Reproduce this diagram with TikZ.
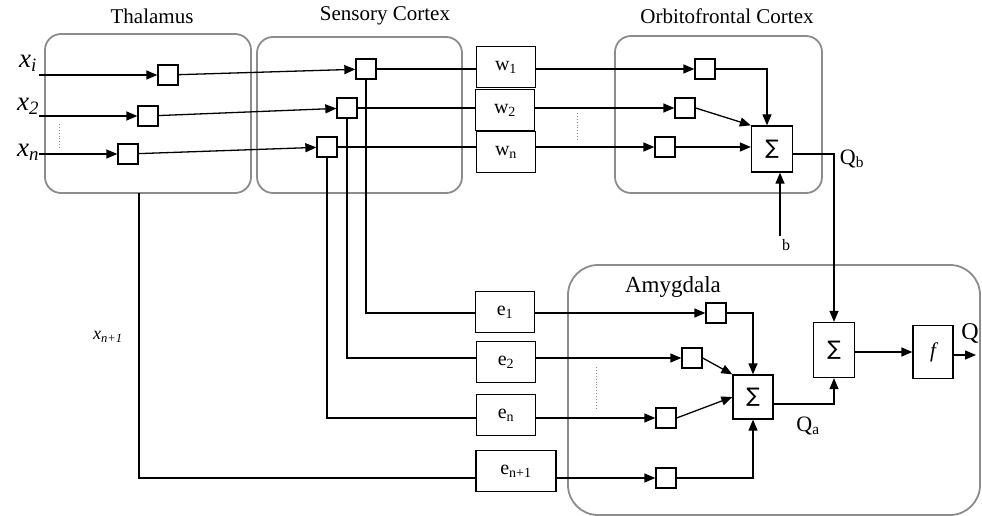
\documentclass[tikz,border=0pt]{standalone}
\usepackage{fontspec}
\setmainfont{Liberation Serif}
\newfontfamily\sumfont{DejaVu Sans}
\usetikzlibrary{arrows.meta, positioning, calc}
\definecolor{regiongray}{HTML}{8C8C8C}

\tikzset{
  region/.style={draw=regiongray, line width=1.8pt, rounded corners=16pt},
  cell/.style={draw, line width=1.3pt, minimum width=20pt, minimum height=20pt, inner sep=0pt},
  weight/.style={draw, line width=1.3pt, minimum width=59pt, minimum height=41pt, inner sep=0pt,
    font=\fontsize{20}{22}\selectfont},
  sumbox/.style={draw, line width=1.3pt, minimum width=41pt, minimum height=46pt, inner sep=0pt,
    font=\sumfont\fontsize{20}{22}\selectfont},
  wire/.style={line width=1.3pt},
  arr/.style={wire, -{Triangle[length=11pt,width=9pt]}},
  title/.style={font=\fontsize{21}{24}\selectfont},
  inlabel/.style={font=\fontsize{27}{29}\selectfont\itshape},
  dots/.style={dotted, line width=0.9pt, regiongray},
}

\begin{document}
\begin{tikzpicture}[x=1pt,y=-1pt]
  \useasboundingbox (0,0) rectangle (982,516);

  % regions
  \draw[region] (45,34) rectangle (251,193);
  \draw[region] (257,37) rectangle (462,193);
  \draw[region] (615,36) rectangle (822,193);
  \draw[region, rounded corners=30pt] (568,265) rectangle (980,515);
  \node[title] (thal) at (152,16) {Thalamus};
  \node[title] (sens) at (385,16) {Sensory Cortex};
  \node[title] (orbi) at (727,16) {Orbitofrontal Cortex};
  \node[font=\fontsize{23}{26}\selectfont] (amyg) at (673,287) {Amygdala};

  % inputs
  \node[inlabel] (xi) at (28,63) {x\textsubscript{i}};
  \node[inlabel] (x2) at (28,106) {x\textsubscript{2}};
  \node[inlabel] (xn) at (28,152) {x\textsubscript{n}};
  \coordinate (in1) at (39,75);
  \coordinate (in2) at (39,116);
  \coordinate (in3) at (39,154);
  \draw[dots] (59,124) -- (59,150);

  % thalamus cells
  \node[cell] (t1) at (168,75) {};
  \node[cell] (t2) at (148,116) {};
  \node[cell] (t3) at (128,154) {};

  % sensory cortex cells
  \node[cell] (s1) at (366,69) {};
  \node[cell] (s2) at (347,108) {};
  \node[cell] (s3) at (327,147) {};

  % weights
  \node[weight] (w1) at (506,67) {w\textsubscript{1}};
  \node[weight] (w2) at (505,110) {w\textsubscript{2}};
  \node[weight] (wn) at (506,152) {w\textsubscript{n}};
  \draw[dots] (577,113) -- (577,142);

  % orbitofrontal cells
  \node[cell] (o1) at (705,69) {};
  \node[cell] (o2) at (685,108) {};
  \node[cell] (o3) at (665,147) {};
  \node[sumbox] (sumO) at (772,149) {∑};
  \coordinate (bO) at (780,236);
  \node[font=\fontsize{16}{18}\selectfont] (blab) at (786,245) {b};
  \node[font=\fontsize{22}{24}\selectfont] (qb) at (852,159) {Q\textsubscript{b}};

  % e boxes
  \node[weight] (e1) at (505,312) {e\textsubscript{1}};
  \node[weight] (e2) at (506,362) {e\textsubscript{2}};
  \node[weight] (en) at (506,415) {e\textsubscript{n}};
  \node[weight, minimum width=80pt] (en1) at (516,471) {e\textsubscript{n+1}};
  \coordinate (tdown) at (139,193);
  \node[font=\fontsize{18}{20}\selectfont\itshape] (xn1) at (108,337) {x\textsubscript{n+1}};

  % amygdala cells
  \node[cell] (a1) at (716,313) {};
  \node[cell] (a2) at (692,358) {};
  \node[cell] (a3) at (666,418) {};
  \node[cell] (a4) at (666,478) {};
  \draw[dots] (596,367) -- (596,408);
  \node[sumbox, minimum width=40pt, minimum height=44pt] (sumA) at (753,397) {∑};
  \node[font=\fontsize{22}{24}\selectfont] (qa) at (808,426) {Q\textsubscript{a}};
  \node[sumbox, minimum height=55pt] (sum2) at (834,350) {∑};
  \node[draw, line width=1.3pt, minimum width=40pt, minimum height=53pt,
    font=\fontsize{21}{23}\selectfont\itshape] (fbox) at (933,352) {f};
  \coordinate (qout) at (976,355);
  \node[font=\fontsize{24}{26}\selectfont] (q) at (970,333) {Q};

  % thalamus -> sensory
  \draw[arr] (in1) -- (t1);
  \draw[arr] (in2) -- (t2);
  \draw[arr] (in3) -- (t3);
  \draw[arr] (t1) -- (s1);
  \draw[arr] (t2) -- (s2);
  \draw[arr] (t3) -- (s3);

  % sensory -> orbitofrontal
  \draw[wire] (s1) -- (s1 -| w1.west);
  \draw[wire] (s2) -- (s2 -| w2.west);
  \draw[wire] (s3) -- (s3 -| wn.west);
  \draw[arr] (s1 -| w1.east) -- (o1);
  \draw[arr] (s2 -| w2.east) -- (o2);
  \draw[arr] (s3 -| wn.east) -- (o3);
  \draw[arr] (o1.east) -| ([xshift=-5pt]sumO.north);
  \draw[arr] (o2.east) -- (sumO.north west);
  \draw[arr] (o3) -- (o3 -| sumO.west);
  \draw[arr] (bO) -- (bO |- sumO.south);
  \draw[arr] ([yshift=-5pt]sumO.east) -| (sum2.north);

  % sensory -> amygdala
  \draw[wire] (s1.south) |- (a1 -| e1.west);
  \draw[wire] (s2.south) |- (a2 -| e2.west);
  \draw[wire] (s3.south) |- (a3 -| en.west);
  \draw[wire] (tdown) |- (a4 -| en1.west);
  \draw[arr] (a1 -| e1.east) -- (a1);
  \draw[arr] (a2 -| e2.east) -- (a2);
  \draw[arr] (a3 -| en.east) -- (a3);
  \draw[arr] (en1.east |- a4) -- (a4);
  \draw[arr] (a1.east) -| (sumA.north);
  \draw[arr] (a2.east) -- (sumA.north west);
  \draw[arr] (a3.east) -- (sumA.west);
  \draw[arr] (a4.east) -| (sumA.south);
  \draw[arr] ([yshift=-7pt]sumA.east) -| (sum2.south);
  \draw[arr] (sum2.east |- fbox) -- (fbox);
  \draw[arr] (fbox.east |- qout) -- (qout);
\end{tikzpicture}
\end{document}
